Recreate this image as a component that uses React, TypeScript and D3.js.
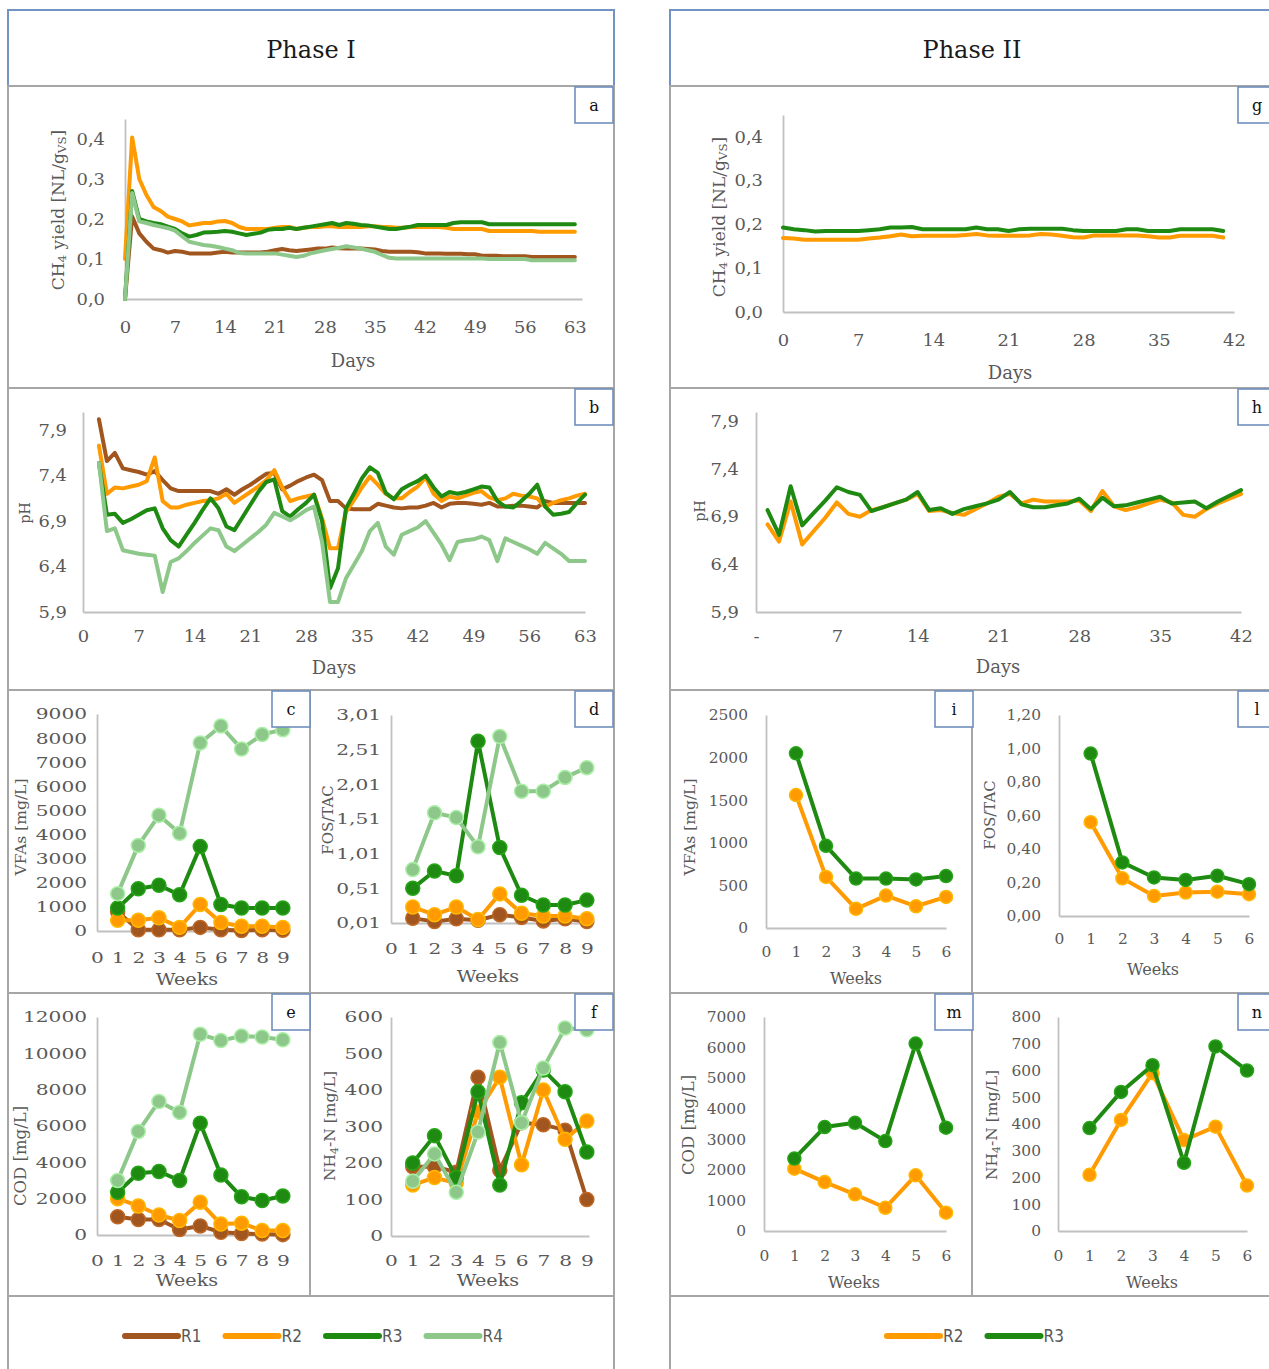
import React, { useEffect, useRef } from "react"
import * as d3 from "d3"

// ---- colours ----
const C1 = "#a0561e"
const C2 = "#ff9a00"
const C3 = "#1f8a12"
const C4 = "#8dc88a"

const FONT = "'DejaVu Serif', 'Liberation Serif', serif"
const GRAY = "#595959"

// ---- Phase I, CH4 yield (days 0..63) ----
const daysA = d3.range(64)
const ch4R1 = [0, 0.206, 0.164, 0.143, 0.126, 0.122, 0.116, 0.12, 0.118, 0.114,
  0.114, 0.114, 0.114, 0.116, 0.118, 0.116, 0.116, 0.116, 0.116, 0.116,
  0.118, 0.122, 0.125, 0.122, 0.12, 0.122, 0.124, 0.126, 0.126, 0.129,
  0.127, 0.126, 0.126, 0.126, 0.125, 0.124, 0.12, 0.118, 0.118, 0.118,
  0.118, 0.117, 0.114, 0.114, 0.114, 0.113, 0.113, 0.113, 0.112, 0.112,
  0.108, 0.108, 0.108, 0.107, 0.107, 0.107, 0.107, 0.105, 0.105, 0.105,
  0.105, 0.105, 0.105, 0.105]
const ch4R2 = [0.1, 0.404, 0.3, 0.26, 0.23, 0.22, 0.206, 0.2, 0.194, 0.184,
  0.187, 0.19, 0.19, 0.194, 0.195, 0.19, 0.18, 0.175, 0.175, 0.175,
  0.175, 0.178, 0.18, 0.18, 0.175, 0.178, 0.18, 0.18, 0.182, 0.182,
  0.18, 0.18, 0.18, 0.18, 0.182, 0.182, 0.18, 0.18, 0.178, 0.178,
  0.18, 0.18, 0.18, 0.18, 0.18, 0.178, 0.175, 0.175, 0.175, 0.175,
  0.175, 0.17, 0.17, 0.17, 0.17, 0.17, 0.17, 0.17, 0.168, 0.168,
  0.168, 0.168, 0.168, 0.168]
const ch4R3 = [0, 0.27, 0.2, 0.194, 0.19, 0.187, 0.181, 0.175, 0.164, 0.156,
  0.16, 0.166, 0.167, 0.168, 0.17, 0.168, 0.164, 0.16, 0.163, 0.166,
  0.173, 0.175, 0.175, 0.178, 0.175, 0.178, 0.181, 0.184, 0.187, 0.19,
  0.185, 0.19, 0.188, 0.185, 0.184, 0.181, 0.178, 0.175, 0.175, 0.178,
  0.181, 0.185, 0.185, 0.185, 0.185, 0.185, 0.19, 0.192, 0.192, 0.192,
  0.192, 0.187, 0.187, 0.187, 0.187, 0.187, 0.187, 0.187, 0.187, 0.187,
  0.187, 0.187, 0.187, 0.187]
const ch4R4 = [0, 0.265, 0.194, 0.19, 0.185, 0.181, 0.177, 0.171, 0.157, 0.143,
  0.139, 0.135, 0.133, 0.13, 0.126, 0.122, 0.115, 0.114, 0.114, 0.114,
  0.114, 0.114, 0.111, 0.108, 0.105, 0.108, 0.114, 0.118, 0.122, 0.125,
  0.128, 0.132, 0.129, 0.126, 0.122, 0.118, 0.11, 0.103, 0.101, 0.101,
  0.101, 0.101, 0.101, 0.101, 0.101, 0.101, 0.101, 0.101, 0.101, 0.101,
  0.101, 0.1, 0.1, 0.1, 0.1, 0.1, 0.1, 0.097, 0.097, 0.097,
  0.097, 0.097, 0.097, 0.097]

// ---- Phase I, pH (days 2..63) ----
const daysB = d3.range(2, 64)
const phR1 = [8.02, 7.56, 7.65, 7.48, 7.46, 7.44, 7.41, 7.45, 7.35, 7.26,
  7.23, 7.23, 7.23, 7.23, 7.23, 7.2, 7.25, 7.19, 7.25, 7.3,
  7.36, 7.42, 7.43, 7.25, 7.29, 7.34, 7.38, 7.41, 7.35, 7.12,
  7.12, 7.04, 7.03, 7.03, 7.03, 7.09, 7.07, 7.05, 7.04, 7.05,
  7.05, 7.07, 7.1, 7.05, 7.09, 7.1, 7.1, 7.09, 7.08, 7.1,
  7.06, 7.06, 7.07, 7.07, 7.06, 7.05, 7.12, 7.1, 7.1, 7.1,
  7.1, 7.1]
const phR2 = [7.73, 7.2, 7.27, 7.26, 7.28, 7.3, 7.34, 7.6, 7.12, 7.05,
  7.05, 7.08, 7.1, 7.12, 7.13, 7.15, 7.2, 7.1, 7.16, 7.22,
  7.28, 7.35, 7.46, 7.27, 7.12, 7.15, 7.17, 7.19, 6.93, 6.6,
  6.6, 7.0, 7.13, 7.27, 7.39, 7.3, 7.2, 7.15, 7.15, 7.22,
  7.28, 7.38, 7.2, 7.12, 7.17, 7.15, 7.18, 7.21, 7.23, 7.16,
  7.13, 7.15, 7.2, 7.18, 7.17, 7.15, 7.06, 7.1, 7.13, 7.15,
  7.18, 7.2]
const phR3 = [7.54, 6.97, 6.98, 6.88, 6.92, 6.97, 7.02, 7.04, 6.82, 6.69,
  6.62, 6.75, 6.88, 7.02, 7.15, 7.04, 6.84, 6.8, 6.94, 7.08,
  7.22, 7.33, 7.36, 7.01, 6.95, 7.03, 7.1, 7.19, 6.9, 6.16,
  6.38, 7.04, 7.2, 7.37, 7.49, 7.43, 7.21, 7.14, 7.25, 7.3,
  7.34, 7.4, 7.27, 7.17, 7.22, 7.2, 7.22, 7.25, 7.28, 7.27,
  7.12, 7.06, 7.05, 7.12, 7.2, 7.3, 7.06, 6.97, 6.98, 7.0,
  7.1, 7.19]
const phR4 = [7.54, 6.79, 6.82, 6.58, 6.56, 6.54, 6.53, 6.52, 6.12, 6.45,
  6.49, 6.57, 6.66, 6.74, 6.82, 6.8, 6.62, 6.57, 6.64, 6.71,
  6.78, 6.86, 6.99, 6.95, 6.91, 6.96, 7.02, 7.06, 6.67, 6.01,
  6.01, 6.27, 6.42, 6.57, 6.79, 6.88, 6.62, 6.53, 6.75, 6.79,
  6.83, 6.9, 6.77, 6.64, 6.47, 6.67, 6.69, 6.7, 6.73, 6.69,
  6.46, 6.71, 6.67, 6.63, 6.59, 6.54, 6.66, 6.6, 6.54, 6.46,
  6.46, 6.46]

// ---- Phase I, weekly ----
const weeks1 = [1, 2, 3, 4, 5, 6, 7, 8, 9]
const vfaR1 = [800, 50, 50, 50, 150, 50, 20, 50, 30]
const vfaR2 = [450, 450, 550, 150, 1100, 350, 200, 200, 150]
const vfaR3 = [950, 1750, 1900, 1500, 3500, 1100, 950, 950, 950]
const vfaR4 = [1550, 3550, 4800, 4050, 7800, 8500, 7550, 8150, 8350]

const fosR1 = [0.08, 0.03, 0.07, 0.05, 0.13, 0.09, 0.04, 0.07, 0.03]
const fosR2 = [0.24, 0.13, 0.24, 0.06, 0.43, 0.15, 0.11, 0.11, 0.07]
const fosR3 = [0.51, 0.76, 0.69, 2.63, 1.1, 0.41, 0.27, 0.27, 0.34]
const fosR4 = [0.78, 1.6, 1.53, 1.11, 2.7, 1.91, 1.91, 2.11, 2.25]

const codR1 = [1000, 850, 850, 300, 500, 150, 80, 50, 20]
const codR2 = [2000, 1600, 1100, 800, 1800, 600, 650, 250, 250]
const codR3 = [2350, 3400, 3500, 3000, 6150, 3300, 2100, 1900, 2150]
const codR4 = [3000, 5700, 7350, 6750, 11050, 10700, 10950, 10900, 10750]

const nhR1 = [190, 190, 175, 435, 180, 310, 305, 290, 100]
const nhR2 = [140, 160, 145, 340, 435, 195, 400, 265, 315]
const nhR3 = [200, 275, 160, 395, 140, 365, 455, 395, 230]
const nhR4 = [150, 225, 120, 285, 530, 310, 460, 570, 565]

// ---- Phase II, CH4 yield (days 0..41) ----
const daysG = d3.range(42)
const ch4IIR2 = [0.169, 0.168, 0.165, 0.165, 0.165, 0.165, 0.165, 0.165, 0.168, 0.17,
  0.173, 0.177, 0.173, 0.174, 0.174, 0.174, 0.174, 0.176, 0.178, 0.175,
  0.174, 0.174, 0.174, 0.175, 0.178, 0.177, 0.174, 0.171, 0.17, 0.175,
  0.175, 0.175, 0.175, 0.175, 0.173, 0.17, 0.17, 0.174, 0.174, 0.174,
  0.174, 0.17]
const ch4IIR3 = [0.193, 0.189, 0.187, 0.184, 0.185, 0.185, 0.185, 0.185, 0.187, 0.189,
  0.193, 0.193, 0.194, 0.189, 0.189, 0.189, 0.189, 0.189, 0.193, 0.189,
  0.189, 0.185, 0.189, 0.19, 0.19, 0.19, 0.19, 0.187, 0.185, 0.185,
  0.185, 0.185, 0.189, 0.189, 0.185, 0.185, 0.185, 0.189, 0.189, 0.189,
  0.189, 0.185]

// ---- Phase II, pH (days 1..42) ----
const daysH = d3.range(1, 43)
const phIIR2 = [6.82, 6.64, 7.06, 6.61, 6.75, 6.89, 7.05, 6.93, 6.9, 6.97,
  7.0, 7.04, 7.08, 7.14, 6.96, 6.97, 6.94, 6.92, 6.98, 7.04,
  7.11, 7.14, 7.04, 7.08, 7.06, 7.06, 7.06, 7.07, 6.96, 7.17,
  7.01, 6.97, 7.0, 7.04, 7.08, 7.05, 6.92, 6.9, 6.98, 7.04,
  7.09, 7.14]
const phIIR3 = [6.97, 6.71, 7.22, 6.81, 6.94, 7.07, 7.21, 7.16, 7.13, 6.96,
  7.0, 7.04, 7.08, 7.16, 6.97, 6.99, 6.93, 6.98, 7.01, 7.04,
  7.08, 7.16, 7.03, 7.0, 7.0, 7.02, 7.04, 7.09, 6.98, 7.1,
  7.01, 7.02, 7.05, 7.08, 7.11, 7.04, 7.05, 7.06, 6.99, 7.06,
  7.12, 7.18]

// ---- Phase II, weekly ----
const weeks2 = [1, 2, 3, 4, 5, 6]
const vfaIIR2 = [1560, 600, 225, 380, 255, 365]
const vfaIIR3 = [2050, 965, 580, 580, 570, 610]
const fosIIR2 = [0.56, 0.225, 0.12, 0.14, 0.145, 0.13]
const fosIIR3 = [0.97, 0.32, 0.23, 0.215, 0.24, 0.19]
const codIIR2 = [2040, 1600, 1200, 760, 1820, 600]
const codIIR3 = [2370, 3400, 3540, 2940, 6130, 3380]
const nhIIR2 = [210, 415, 590, 340, 390, 170]
const nhIIR3 = [385, 520, 620, 255, 690, 600]

// ---- tick values ----
const dayTicks63 = [0, 7, 14, 21, 28, 35, 42, 49, 56, 63]
const dayTicks42 = [0, 7, 14, 21, 28, 35, 42]
const ch4Ticks = [0, 0.1, 0.2, 0.3, 0.4]
const phTicks = [5.9, 6.4, 6.9, 7.4, 7.9]
const weekTicks9 = [0, 1, 2, 3, 4, 5, 6, 7, 8, 9]
const weekTicks6 = [0, 1, 2, 3, 4, 5, 6]
const vfaTicks = [0, 1000, 2000, 3000, 4000, 5000, 6000, 7000, 8000, 9000]
const fosTicks = [0.01, 0.51, 1.01, 1.51, 2.01, 2.51, 3.01]
const codTicks = [0, 2000, 4000, 6000, 8000, 10000, 12000]
const nhTicks = [0, 100, 200, 300, 400, 500, 600]
const vfaIITicks = [0, 500, 1000, 1500, 2000, 2500]
const fosIITicks = [0, 0.2, 0.4, 0.6, 0.8, 1.0, 1.2]
const codIITicks = [0, 1000, 2000, 3000, 4000, 5000, 6000, 7000]
const nhIITicks = [0, 100, 200, 300, 400, 500, 600, 700, 800]

const comma = (f: string) => (d: number) => d3.format(f)(d).replace(".", ",")
const plain = (d: number) => String(d)

type Series = { xs: number[]; ys: number[]; color: string }

type PanelProps = {
  frame: [number, number, number, number]
  xDom: [number, number]; xRange: [number, number]
  yDom: [number, number]; yRange: [number, number]
  xTicks: number[]; xFmt: (d: number) => string
  yTicks: number[]; yFmt: (d: number) => string
  font: number; sx: number; xOff: number; yPad: number
  xTitle: [string, number, number, number, number]
  yTitle: React.ReactNode; yPos: [number, number, number]
  series: Series[]; lw: number; r?: number
}

function Panel(p: PanelProps) {
  const xRef = useRef<SVGGElement>(null)
  const yRef = useRef<SVGGElement>(null)
  const x = d3.scaleLinear().domain(p.xDom).range(p.xRange)
  const y = d3.scaleLinear().domain(p.yDom).range(p.yRange)

  useEffect(() => {
    const gx = d3.select(xRef.current!)
    gx.call(d3.axisBottom(x).tickValues(p.xTicks).tickFormat((d) => p.xFmt(+d))
      .tickSize(0).tickSizeOuter(0).tickPadding(p.xOff - 0.35 * p.font))
    const gy = d3.select(yRef.current!)
    gy.call(d3.axisLeft(y).tickValues(p.yTicks).tickFormat((d) => p.yFmt(+d))
      .tickSize(0).tickSizeOuter(0).tickPadding(p.yPad))
    for (const g of [gx, gy]) {
      g.select(".domain").attr("stroke", "#c0c0c0").attr("stroke-width", 1.8)
      g.selectAll(".tick line").remove()
      g.selectAll("text")
        .attr("fill", GRAY)
        .attr("font-size", p.font)
        .attr("font-family", FONT)
        .attr("transform", `scale(${p.sx},1)`)
    }
    gy.selectAll("text").attr("x", -p.yPad / p.sx)
  }, [])

  const [fx, fy, fw, fh] = p.frame
  const [tt, tx, ty, ts, tsx] = p.xTitle
  return (
    <g>
      <rect x={fx} y={fy} width={fw} height={fh} fill="none" stroke="#a6a6a6" strokeWidth={2} />
      <g ref={yRef} transform={`translate(${p.xRange[0]},0)`} />
      <g ref={xRef} transform={`translate(0,${p.yRange[0]})`} />
      {p.series.map((s, k) => {
        const line = d3.line<number>().x((_, i) => x(s.xs[i])).y((d) => y(d))
        return (
          <g key={k}>
            <path d={line(s.ys) ?? ""} fill="none" stroke={s.color} strokeWidth={p.lw}
              strokeLinejoin="round" strokeLinecap="round" />
            {p.r ? s.ys.map((v, i) => (
              <circle key={i} cx={x(s.xs[i])} cy={y(v)} r={p.r} fill={s.color}
                stroke={d3.color(s.color)!.brighter(0.5).formatHex()} strokeWidth={1.5} />
            )) : null}
          </g>
        )
      })}
      <text transform={`translate(${tx},${ty}) scale(${tsx},1)`} textAnchor="middle"
        dominantBaseline="central" fontFamily={FONT} fontSize={ts} fill={GRAY}>{tt}</text>
      <text transform={`translate(${p.yPos[0]},${p.yPos[1]}) rotate(-90)`} textAnchor="middle"
        dominantBaseline="central" fontFamily={FONT} fontSize={p.yPos[2]} fill={GRAY}>{p.yTitle}</text>
    </g>
  )
}

const ch4Title = (
  <>
    <tspan>CH</tspan><tspan fontSize="70%" dy={4}>4</tspan>
    <tspan dy={-4}> yield [NL/g</tspan><tspan fontSize="70%" dy={4}>VS</tspan><tspan dy={-4}>]</tspan>
  </>
)
const nhTitle = (
  <>
    <tspan>NH</tspan><tspan fontSize="70%" dy={4}>4</tspan><tspan dy={-4}>-N [mg/L]</tspan>
  </>
)

const letters: [number, number, string][] = [
  [575, 87, "a"], [575, 389, "b"], [272, 691, "c"], [575, 691, "d"], [272, 994, "e"], [575, 994, "f"],
  [1238, 87, "g"], [1238, 389, "h"], [935, 691, "i"], [1238, 691, "l"], [935, 994, "m"], [1238, 994, "n"],
]

const legend1: [string, string][] = [["R1", C1], ["R2", C2], ["R3", C3], ["R4", C4]]
const legend2: [string, string][] = [["R2", C2], ["R3", C3]]

function Legend({ x0, items }: { x0: number; items: [string, string][] }) {
  return (
    <g>
      {items.map(([name, c], i) => (
        <g key={name} transform={`translate(${x0 + i * 100.5},1336)`}>
          <line x1={2} x2={55} y1={0} y2={0} stroke={c} strokeWidth={6} strokeLinecap="round" />
          <text x={58} y={6} fontFamily="'Liberation Sans Narrow', 'DejaVu Sans Condensed', 'Liberation Sans', sans-serif"
            fontSize={17} fill={GRAY}>{name}</text>
        </g>
      ))}
    </g>
  )
}

export default function App() {
  const up = { font: 16, sx: 1.12, lw: 4 }
  const lowL = { font: 15.5, sx: 1.3, lw: 4, r: 7 }
  const lowR = { font: 15, sx: 1.03, lw: 4, r: 6.5 }
  return (
    <svg width={1269} height={1369} style={{ position: "absolute", left: 0, top: 0, background: "#fff" }}>
      {/* titles */}
      <rect x={8} y={10} width={606} height={76} fill="none" stroke="#7393c2" strokeWidth={2} />
      <rect x={670} y={10} width={605} height={76} fill="none" stroke="#7393c2" strokeWidth={2} />
      <text x={311} y={50} textAnchor="middle" dominantBaseline="central" fontFamily={FONT} fontSize={24} fill="#1a1a1a">Phase I</text>
      <text x={972} y={50} textAnchor="middle" dominantBaseline="central" fontFamily={FONT} fontSize={24} fill="#1a1a1a">Phase II</text>

      <Panel {...up} frame={[8, 86, 606, 302]} xDom={[0, 64]} xRange={[125, 582]} yDom={[0, 0.45]} yRange={[299, 119]}
        xTicks={dayTicks63} xFmt={plain} yTicks={ch4Ticks} yFmt={comma(".1f")} xOff={28} yPad={20}
        xTitle={["Days", 353, 360, 18, 1]} yTitle={ch4Title} yPos={[58, 210, 17]}
        series={[{ xs: daysA, ys: ch4R1, color: C1 }, { xs: daysA, ys: ch4R2, color: C2 },
          { xs: daysA, ys: ch4R3, color: C3 }, { xs: daysA, ys: ch4R4, color: C4 }]} />

      <Panel {...up} frame={[8, 388, 606, 302]} xDom={[0, 63]} xRange={[83, 585]} yDom={[5.9, 8.1]} yRange={[612, 412]}
        xTicks={dayTicks63} xFmt={plain} yTicks={phTicks} yFmt={comma(".1f")} xOff={24} yPad={16}
        xTitle={["Days", 334, 667, 18, 1]} yTitle="pH" yPos={[25, 513, 14]}
        series={[{ xs: daysB, ys: phR1, color: C1 }, { xs: daysB, ys: phR2, color: C2 },
          { xs: daysB, ys: phR3, color: C3 }, { xs: daysB, ys: phR4, color: C4 }]} />

      <Panel {...lowL} frame={[8, 690, 302, 303]} xDom={[0, 9.25]} xRange={[97, 288]} yDom={[0, 9000]} yRange={[931, 714]}
        xTicks={weekTicks9} xFmt={plain} yTicks={vfaTicks} yFmt={plain} xOff={26} yPad={10}
        xTitle={["Weeks", 187, 980, 16, 1.2]} yTitle="VFAs [mg/L]" yPos={[21, 827, 15.5]}
        series={[{ xs: weeks1, ys: vfaR1, color: C1 }, { xs: weeks1, ys: vfaR2, color: C2 },
          { xs: weeks1, ys: vfaR3, color: C3 }, { xs: weeks1, ys: vfaR4, color: C4 }]} />

      <Panel {...lowL} frame={[310, 690, 304, 303]} xDom={[0, 9.1]} xRange={[391, 589]} yDom={[0.01, 3.01]} yRange={[923, 715]}
        xTicks={weekTicks9} xFmt={plain} yTicks={fosTicks} yFmt={comma(".2f")} xOff={25} yPad={10}
        xTitle={["Weeks", 488, 977, 16, 1.2]} yTitle="FOS/TAC" yPos={[328, 820, 15]}
        series={[{ xs: weeks1, ys: fosR1, color: C1 }, { xs: weeks1, ys: fosR2, color: C2 },
          { xs: weeks1, ys: fosR3, color: C3 }, { xs: weeks1, ys: fosR4, color: C4 }]} />

      <Panel {...lowL} frame={[8, 993, 302, 303]} xDom={[0, 9.25]} xRange={[97, 288]} yDom={[0, 12000]} yRange={[1235, 1017]}
        xTicks={weekTicks9} xFmt={plain} yTicks={codTicks} yFmt={plain} xOff={25} yPad={10}
        xTitle={["Weeks", 187, 1281, 16, 1.2]} yTitle="COD [mg/L]" yPos={[20, 1156, 16.5]}
        series={[{ xs: weeks1, ys: codR1, color: C1 }, { xs: weeks1, ys: codR2, color: C2 },
          { xs: weeks1, ys: codR3, color: C3 }, { xs: weeks1, ys: codR4, color: C4 }]} />

      <Panel {...lowL} frame={[310, 993, 304, 303]} xDom={[0, 9.1]} xRange={[391, 589]} yDom={[0, 600]} yRange={[1236, 1017]}
        xTicks={weekTicks9} xFmt={plain} yTicks={nhTicks} yFmt={plain} xOff={24} yPad={8}
        xTitle={["Weeks", 488, 1281, 16, 1.2]} yTitle={nhTitle} yPos={[330, 1126, 15.5]}
        series={[{ xs: weeks1, ys: nhR1, color: C1 }, { xs: weeks1, ys: nhR2, color: C2 },
          { xs: weeks1, ys: nhR3, color: C3 }, { xs: weeks1, ys: nhR4, color: C4 }]} />

      <Panel {...up} frame={[670, 86, 605, 302]} xDom={[0, 42]} xRange={[783, 1234]} yDom={[0, 0.45]} yRange={[312, 115]}
        xTicks={dayTicks42} xFmt={plain} yTicks={ch4Ticks} yFmt={comma(".1f")} xOff={28} yPad={20}
        xTitle={["Days", 1010, 372, 18, 1]} yTitle={ch4Title} yPos={[719, 217, 17]}
        series={[{ xs: daysG, ys: ch4IIR2, color: C2 }, { xs: daysG, ys: ch4IIR3, color: C3 }]} />

      <Panel {...up} frame={[670, 388, 605, 302]} xDom={[0, 42]} xRange={[756, 1241]} yDom={[5.9, 8.0]} yRange={[612, 412]}
        xTicks={dayTicks42} xFmt={(d) => (d === 0 ? "-" : String(d))} yTicks={phTicks} yFmt={comma(".1f")} xOff={24} yPad={17}
        xTitle={["Days", 998, 666, 18, 1]} yTitle="pH" yPos={[700, 511, 14]}
        series={[{ xs: daysH, ys: phIIR2, color: C2 }, { xs: daysH, ys: phIIR3, color: C3 }]} />

      <Panel {...lowR} frame={[670, 690, 302, 303]} xDom={[0, 6]} xRange={[766, 946]} yDom={[0, 2500]} yRange={[928, 715]}
        xTicks={weekTicks6} xFmt={plain} yTicks={vfaIITicks} yFmt={plain} xOff={24} yPad={18}
        xTitle={["Weeks", 856, 978, 16, 1]} yTitle="VFAs [mg/L]" yPos={[690, 827, 15.5]}
        series={[{ xs: weeks2, ys: vfaIIR2, color: C2 }, { xs: weeks2, ys: vfaIIR3, color: C3 }]} />

      <Panel {...lowR} frame={[972, 690, 303, 303]} xDom={[0, 6]} xRange={[1059, 1249]} yDom={[0, 1.2]} yRange={[916, 715]}
        xTicks={weekTicks6} xFmt={plain} yTicks={fosIITicks} yFmt={comma(".2f")} xOff={23} yPad={18}
        xTitle={["Weeks", 1153, 969, 16, 1]} yTitle="FOS/TAC" yPos={[990, 815, 15]}
        series={[{ xs: weeks2, ys: fosIIR2, color: C2 }, { xs: weeks2, ys: fosIIR3, color: C3 }]} />

      <Panel {...lowR} frame={[670, 993, 302, 303]} xDom={[0, 6]} xRange={[764, 946]} yDom={[0, 7000]} yRange={[1231, 1017]}
        xTicks={weekTicks6} xFmt={plain} yTicks={codIITicks} yFmt={plain} xOff={25} yPad={18}
        xTitle={["Weeks", 854, 1282, 16, 1]} yTitle="COD [mg/L]" yPos={[688, 1125, 16.5]}
        series={[{ xs: weeks2, ys: codIIR2, color: C2 }, { xs: weeks2, ys: codIIR3, color: C3 }]} />

      <Panel {...lowR} frame={[972, 993, 303, 303]} xDom={[0, 6]} xRange={[1058, 1247]} yDom={[0, 800]} yRange={[1231, 1017]}
        xTicks={weekTicks6} xFmt={plain} yTicks={nhIITicks} yFmt={plain} xOff={25} yPad={17}
        xTitle={["Weeks", 1152, 1282, 16, 1]} yTitle={nhTitle} yPos={[992, 1125, 15.5]}
        series={[{ xs: weeks2, ys: nhIIR2, color: C2 }, { xs: weeks2, ys: nhIIR3, color: C3 }]} />

      {/* legend boxes */}
      <rect x={8} y={1296} width={606} height={90} fill="none" stroke="#a6a6a6" strokeWidth={2} />
      <rect x={670} y={1296} width={605} height={90} fill="none" stroke="#a6a6a6" strokeWidth={2} />
      <Legend x0={123} items={legend1} />
      <Legend x0={885} items={legend2} />

      {/* panel letters */}
      {letters.map(([lx, ly, t]) => (
        <g key={t}>
          <rect x={lx} y={ly} width={38} height={36} fill="#fff" stroke="#6f8fbe" strokeWidth={1.6} />
          <text x={lx + 19} y={ly + 18} textAnchor="middle" dominantBaseline="central"
            fontFamily={FONT} fontSize={16} fill="#111">{t}</text>
        </g>
      ))}
    </svg>
  )
}
